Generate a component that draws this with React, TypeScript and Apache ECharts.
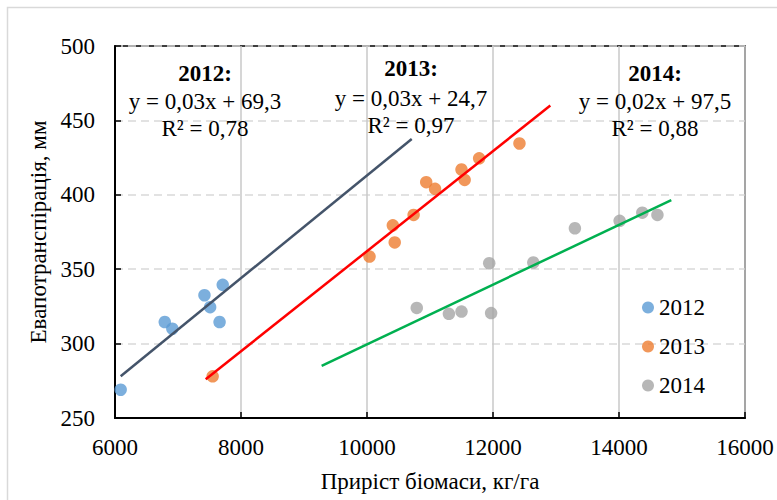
import React, { useEffect, useRef } from "react";
import * as echarts from "echarts";

const years = ["2012", "2013", "2014"];
const colors = ["#5B9BD5", "#ED7D31", "#A5A5A5"];
const trendColors = ["#44546A", "#FF0000", "#00B050"];

const biomass2012 = [6090, 6790, 6910, 7420, 7510, 7660, 7710];
const et2012 = [269, 314.5, 310, 332.5, 324.5, 314.5, 339.5];
const biomass2013 = [7550, 10040, 10440, 10410, 10740, 10940, 11080, 11500, 11550, 11780, 12420];
const et2013 = [278, 358.5, 368, 379.5, 386.5, 408.5, 404, 417, 410, 424.5, 434.5];
const biomass2014 = [10790, 11300, 11500, 11970, 11940, 12640, 13300, 14010, 14370, 14610];
const et2014 = [324, 320, 321.5, 320.5, 354, 354.5, 377.5, 382.5, 388, 386.5];

// trend line endpoints [x, y]
const trend2012 = [[6090, 278], [10710, 437.5]];
const trend2013 = [[7440, 276], [12910, 460]];
const trend2014 = [[9280, 285], [14830, 396.5]];

const equations = [
  { title: "2012:", eq: "y = 0,03x + 69,3", r2: "R² = 0,78" },
  { title: "2013:", eq: "y = 0,03x + 24,7", r2: "R² = 0,97" },
  { title: "2014:", eq: "y = 0,02x + 97,5", r2: "R² = 0,88" },
];

const xTitle = "Приріст біомаси, кг/га";
const yTitle = "Евапотранспірація, мм";

const FONT = "Liberation Serif";

function zip(xs: number[], ys: number[]) {
  return xs.map((x, i) => [x, ys[i]]);
}

export default function App() {
  const ref = useRef<HTMLDivElement>(null);
  useEffect(() => {
    if (!ref.current) return;
    const chart = echarts.init(ref.current, undefined, { renderer: "svg" });
    const xs = [biomass2012, biomass2013, biomass2014];
    const ys = [et2012, et2013, et2014];
    const trends = [trend2012, trend2013, trend2014];
    const annoPos = [
      { x: 205, ys: [73, 101, 128] },
      { x: 411, ys: [68, 98, 125] },
      { x: 655, ys: [73, 101, 128] },
    ];
    const graphic: any[] = [
      {
        type: "rect",
        silent: true,
        z: -10,
        shape: { x: 7.5, y: 7.5, width: 800, height: 520 },
        style: { fill: "#fff", stroke: "#D9D9D9", lineWidth: 1.5 },
      },
    ];
    equations.forEach((e, i) => {
      const p = annoPos[i];
      const lines = [
        { t: e.title, w: "bold" },
        { t: e.eq, w: "normal" },
        { t: e.r2, w: "normal" },
      ];
      lines.forEach((l, j) => {
        graphic.push({
          type: "text",
          silent: true,
          z: 10,
          style: {
            text: l.t,
            x: p.x,
            y: p.ys[j],
            textAlign: "center",
            textVerticalAlign: "middle",
            fontFamily: FONT,
            fontSize: 23,
            fontWeight: l.w,
            fill: "#000",
          },
        });
      });
    });

    const series: any[] = [];
    years.forEach((y, i) => {
      series.push({
        name: y,
        type: "scatter",
        data: zip(xs[i], ys[i]),
        symbol: "circle",
        symbolSize: 12.5,
        itemStyle: { color: colors[i] },
        z: 3,
      });
    });
    years.forEach((y, i) => {
      series.push({
        name: "trend" + y,
        type: "line",
        data: trends[i],
        showSymbol: false,
        symbol: "none",
        lineStyle: { color: trendColors[i], width: 2.5 },
        z: 4,
      });
    });

    chart.setOption({
      animation: false,
      backgroundColor: "#fff",
      textStyle: { fontFamily: FONT },
      grid: {
        left: 115,
        top: 46,
        right: 32,
        bottom: 82,
        show: true,
        borderColor: "#000",
        borderWidth: 1.5,
        backgroundColor: "transparent",
        outerBoundsMode: "none",
      },
      legend: {
        data: years,
        orient: "vertical",
        left: 637,
        top: 291,
        itemWidth: 12,
        itemHeight: 12,
        itemGap: 16,
        icon: "circle",
        textStyle: { fontFamily: FONT, fontSize: 23, color: "#000" },
      },
      xAxis: {
        type: "value",
        min: 6000,
        max: 16000,
        interval: 2000,
        name: xTitle,
        nameLocation: "middle",
        nameGap: 52,
        nameTextStyle: { fontFamily: FONT, fontSize: 23, color: "#000" },
        axisLine: { lineStyle: { color: "#000", width: 2 } },
        axisTick: { show: true, inside: true, length: 6, lineStyle: { color: "#000", width: 1.5 } },
        axisLabel: {
          fontFamily: FONT,
          fontSize: 23,
          color: "#000",
          margin: 18,
          formatter: (v: number) => String(v),
        },
        splitLine: { show: true, lineStyle: { color: "#C8C8C8", width: 1.5 } },
      },
      yAxis: {
        type: "value",
        min: 250,
        max: 500,
        interval: 50,
        name: yTitle,
        nameLocation: "middle",
        nameGap: 60,
        nameTextStyle: { fontFamily: FONT, fontSize: 23, color: "#000" },
        axisLine: { show: true, lineStyle: { color: "#000", width: 2 } },
        axisTick: { show: true, inside: true, length: 6, lineStyle: { color: "#000", width: 1.5 } },
        axisLabel: {
          fontFamily: FONT,
          fontSize: 23,
          color: "#000",
          margin: 20,
          formatter: (v: number) => String(v),
        },
        splitLine: { show: true, lineStyle: { color: "#D9D9D9", width: 1.5, type: [8, 5] } },
      },
      graphic,
      series,
    });
    return () => chart.dispose();
  }, []);
  return (
    <div
      ref={ref}
      style={{ position: "absolute", left: 0, top: 0, width: 777, height: 500, background: "#fff" }}
    />
  );
}
